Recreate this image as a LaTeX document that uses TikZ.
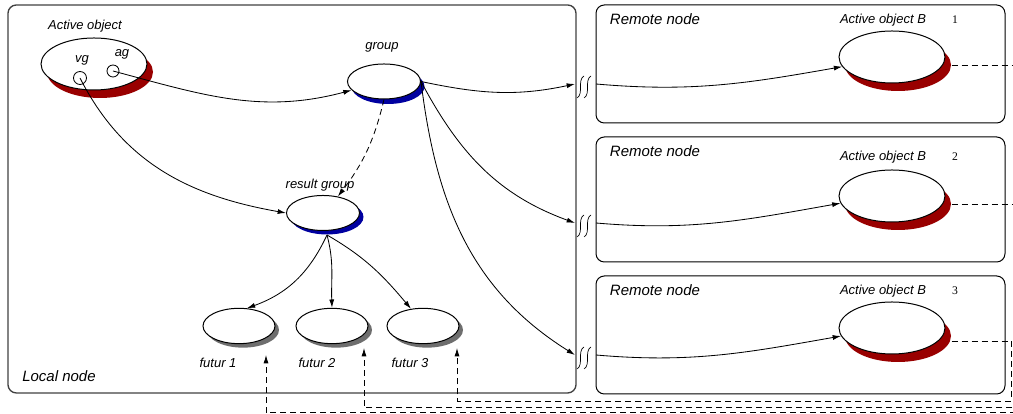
\documentclass[tikz,border=0pt]{standalone}
\usepackage{fontspec}
\setmainfont{Liberation Sans}
\newfontfamily\numfont{Liberation Serif}
\usetikzlibrary{shapes.geometric,arrows.meta}
\definecolor{objred}{RGB}{153,0,0}
\definecolor{grpblue}{RGB}{0,0,160}
\definecolor{futgray}{RGB}{110,110,110}
\tikzset{
    obj/.style={ellipse, draw, fill=white, line width=0.6pt, inner sep=0pt,
        minimum width=63.6pt, minimum height=31.2pt},
    grpobj/.style={obj, minimum width=43.8pt, minimum height=21pt},
    futobj/.style={obj, minimum width=43.2pt, minimum height=21.2pt},
    shd/.style={fill=#1, draw=none},
    ref/.style={circle, draw, line width=0.5pt, inner sep=0pt, minimum size=#1},
    lbl/.style={font=\itshape\fontsize{7.8}{9}\selectfont, inner sep=0pt},
    ttl/.style={font=\itshape\fontsize{9}{11}\selectfont, inner sep=0pt},
    num/.style={font=\numfont\fontsize{7}{8}\selectfont, inner sep=0pt},
    call/.style={->, line width=0.5pt},
    back/.style={->, line width=0.5pt, dash pattern=on 3.6pt off 2.4pt},
}
\begin{document}
\begin{tikzpicture}[x=0.6pt, y=0.6pt, >={Latex[length=5pt,width=3pt]}]
                        \useasboundingbox (0,0) rectangle (1013,414);
                        \draw[line width=0.8pt, black!75, rounded corners=5pt] (8,409) rectangle (576,21);
                        \node[ttl] at (59,38) {Local node};

                        \node[obj, shd=objred] (aoS) at (100,342) {};
                        \node[obj] (ao) at (94,350) {};
                        \node[lbl] at (85,388) {Active object};
                        \node[ref=7.8pt] (vg) at (80,336) {};
                        \node[ref=7.2pt] (ag) at (113,343) {};
                        \node[lbl] at (82,354) {vg};
                        \node[lbl] at (122,360) {ag};

                        \node[grpobj, shd=grpblue] (grpS) at (388,327.5) {};
                        \node[grpobj] (grp) at (384,332.5) {};
                        \node[lbl] at (382,367) {group};

                        \node[grpobj, shd=grpblue] (rgS) at (327,197) {};
                        \node[grpobj] (rg) at (323,201) {};
                        \node[lbl] at (320,229) {result group};

                        \foreach \i/\x/\lx in {1/239/218, 2/332/317, 3/423/410} {
                            \node[futobj, shd=futgray] (f\i S) at (\x+4,84) {};
                            \node[futobj] (f\i) at (\x,88) {};
                            \node[lbl] at (\lx,51) {futur \i};
                        }

                        \foreach \i/\ya/\yb/\y/\ly/\m in {1/409/291/357/394/330, 2/277/152/218/257/191, 3/138/20/86/123/59} {
                            \draw[line width=0.6pt, rounded corners=5pt] (596,\ya) rectangle (1005,\yb);
                            \node[ttl] at (655,\ya-14.5) {Remote node};
                            \node[obj, shd=objred] (B\i S) at (898,\y-8) {};
                            \node[obj] (B\i) at (892,\y) {};
                            \node[lbl] at (883,\ly) {Active object B};
                            \node[num] at (955,\ly) {\i};
                            \coordinate (in\i) at (575,\m);
                            \coordinate (out\i) at (596,\m);
                            \draw[line width=0.4pt] (577,\m-14) .. controls (584,\m-10) and (577,\m+4) .. (584,\m+8);
                            \draw[line width=0.4pt] (584,\m-14) .. controls (591,\m-10) and (584,\m+4) .. (591,\m+8);
                        }

                        \draw[call] (ag.center) to[out=-15,in=195] (grp.195);
                        \draw[call] (vg.center) to[out=-63,in=170] (rg.west);
                        \draw[back] (grp.south) to[bend left=12] (rg.48);

                        \draw[call] (grp.east) to[out=-12,in=192] (in1);
                        \draw[call] (grp.east) to[out=-62,in=160] (in2);
                        \draw[call] (grp.east) to[out=-83,in=148] (in3);
                        \draw[call] (out1) to[out=-5,in=190] (B1.191);
                        \draw[call] (out2) to[out=-5,in=190] (B2.188);
                        \draw[call] (out3) to[out=-5,in=190] (B3.189);

                        \draw[call] (rgS.south) to[out=245,in=20] (f1.66);
                        \draw[call] (rgS.south) to[out=-75,in=92] (f2.north);
                        \draw[call] (rgS.south) to[out=-30,in=130] (f3.125);

                        \coordinate (t1) at (266,59);
                        \coordinate (t2) at (364,66);
                        \coordinate (t3) at (457,66);
                        \coordinate (r1) at (1040,1.3);
                        \coordinate (r2) at (1030,6.3);
                        \coordinate (r3) at (1011,13);
                        \draw[back] (B1S.east) -| (r1) -| (t1);
                        \draw[back] (B2S.east) -| (r2) -| (t2);
                        \draw[back] ([yshift=-3pt]B3S.east) -| (r3) -| (t3);
                    \end{tikzpicture}
\end{document}
